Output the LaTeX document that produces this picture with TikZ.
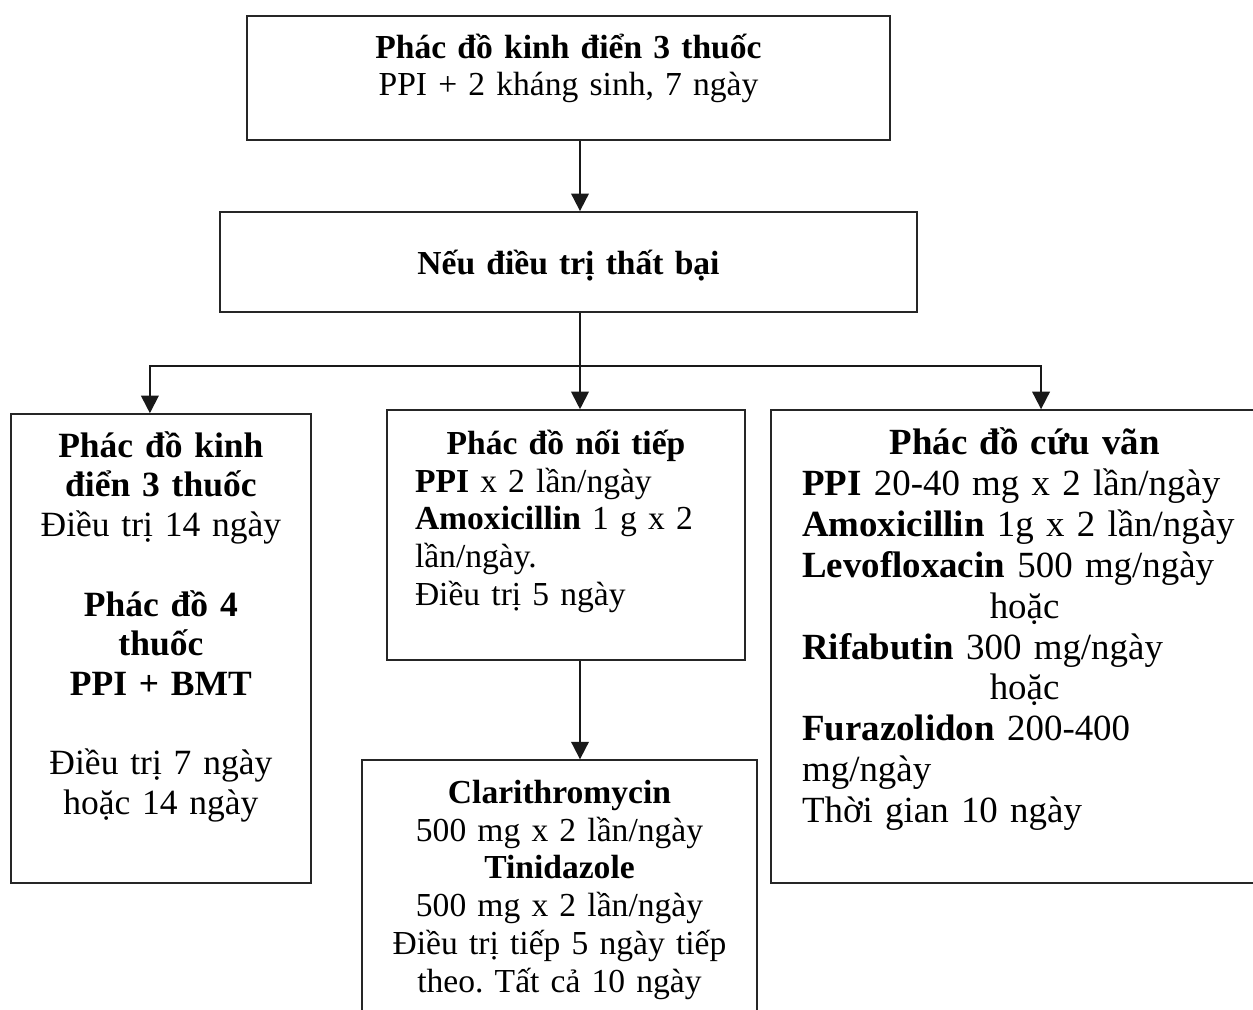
\documentclass[tikz,border=0pt]{standalone}
\usepackage{fontspec}
\setmainfont{Liberation Serif}
\usepackage{tikz}
\usetikzlibrary{
  positioning,
  arrows.meta,
  calc
}
\lineskiplimit=-\maxdimen
\frenchspacing

\begin{document}
\begin{tikzpicture}[
  box/.style={
    rectangle,
    draw=black!85,
    line width=1.2pt,
    inner ysep=0pt,
    align=center
  },
  smalltext/.style={
    font=\fontsize{19.1}{21.5}\selectfont
  },
  lefttext/.style={
    font=\fontsize{20.2}{22.6}\selectfont
  },
  righttext/.style={
    font=\fontsize{21}{23.3}\selectfont
  },
  arrow/.style={
    -{Triangle[width=10pt,length=10pt]},
    line width=1.1pt,
    draw=black!90
  },
  link/.style={
    line width=1.1pt,
    draw=black!90
  }
]
\useasboundingbox (0,0) rectangle (25.06,-20.18);
\clip (0,0) rectangle (25.06,-20.18);

% Main chain
\node[box, smalltext, text width=12.26cm, inner xsep=0.3cm,
  text height=0.84cm, text depth=1.64cm, anchor=north] (kinhdien) at (11.37,-0.3)
  {\textbf{Phác đồ kinh điển 3 thuốc}\\PPI + 2 kháng sinh, 7 ngày};
\node[box, smalltext, text width=13.34cm, inner xsep=0.3cm,
  text height=1.24cm, text depth=0.76cm, below=1.4cm of kinhdien] (thatbai)
  {\textbf{Nếu điều trị thất bại}};

% Second-line regimens
\node[box, smalltext, text width=6.04cm, inner xsep=0.56cm,
  text height=0.88cm, text depth=4.12cm, below=1.92cm of thatbai, xshift=-0.05cm] (noitiep)
  {\textbf{Phác đồ nối tiếp}\par
   {\raggedright\textbf{PPI} x 2 lần/ngày\\
   \textbf{Amoxicillin} 1 g x 2\\
   lần/ngày.\\
   Điều trị 5 ngày\par}};
\node[box, lefttext, text width=5.4cm, inner xsep=0.3cm,
  text height=0.86cm, text depth=8.52cm, anchor=north east]
  (bonthuoc) at ([xshift=-1.48cm,yshift=-0.08cm]noitiep.north west)
  {\textbf{Phác đồ kinh}\\
   \textbf{điển 3 thuốc}\\
   Điều trị 14 ngày\\[\baselineskip]
   \textbf{Phác đồ 4}\\
   \textbf{thuốc}\\
   \textbf{PPI + BMT}\\[\baselineskip]
   Điều trị 7 ngày\\
   hoặc 14 ngày};
\node[box, righttext, text width=8.9cm, inner xsep=0.62cm,
  text height=0.88cm, text depth=8.58cm, anchor=north west]
  (cuuvan) at ([xshift=0.48cm]noitiep.north east)
  {\textbf{Phác đồ cứu vãn}\par
   {\raggedright\textbf{PPI} 20-40 mg x 2 lần/ngày\\
   \textbf{Amoxicillin} 1g x 2 lần/ngày\\
   \textbf{Levofloxacin} 500 mg/ngày\par}
   hoặc\par
   {\raggedright\textbf{Rifabutin} 300 mg/ngày\par}
   hoặc\par
   {\raggedright\textbf{Furazolidon} 200-400\\
   mg/ngày\\
   Thời gian 10 ngày\par}};

% Follow-up step
\node[box, smalltext, text width=7.3cm, inner xsep=0.3cm,
  text height=0.86cm, text depth=6cm, below=1.96cm of noitiep, xshift=-0.13cm] (tieptheo)
  {\textbf{Clarithromycin}\\
   500 mg x 2 lần/ngày\\
   \textbf{Tinidazole}\\
   500 mg x 2 lần/ngày\\
   Điều trị tiếp 5 ngày tiếp\\
   theo. Tất cả 10 ngày};

% Connectors
\coordinate (spine) at ([xshift=0.23cm]kinhdien.south);
\coordinate (split) at ($(thatbai.south -| spine)+(0,-1.06)$);
\coordinate (leftdrop) at ([xshift=-0.22cm]bonthuoc.north);
\coordinate (rightdrop) at ([xshift=5.42cm]cuuvan.north west);

\draw[arrow] (spine) -- (thatbai.north -| spine);
\draw[link] (thatbai.south -| spine) -- (split);
\draw[arrow] (split) -| (leftdrop);
\draw[arrow] (split) -| (rightdrop);
\draw[arrow] (split) -- (noitiep.north -| spine);
\draw[arrow] (noitiep.south -| spine) -- (tieptheo.north -| spine);

\end{tikzpicture}
\end{document}
